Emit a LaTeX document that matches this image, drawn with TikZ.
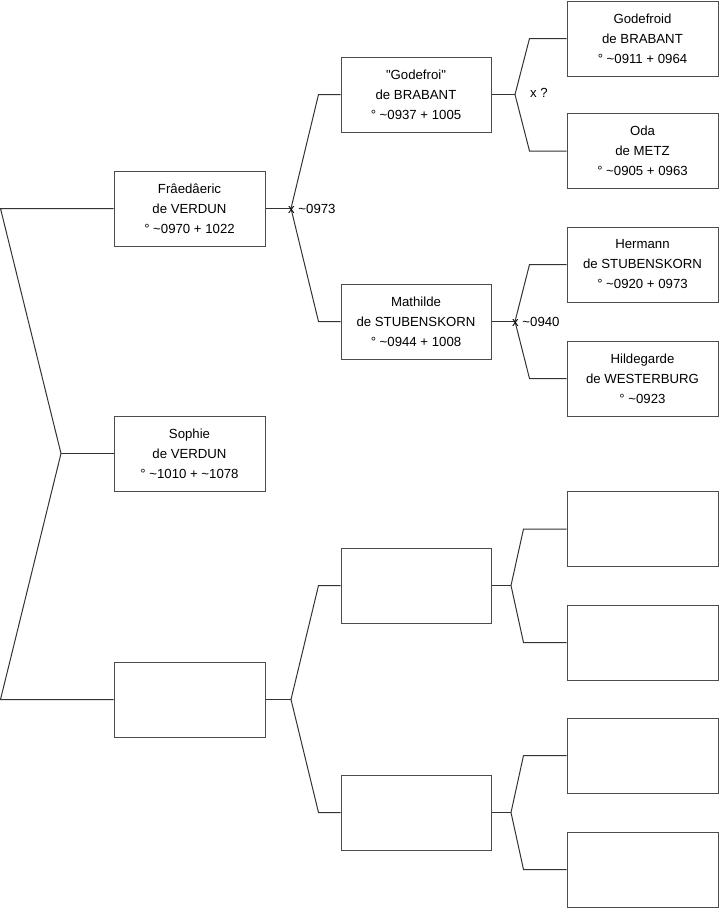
\documentclass[tikz,border=0pt]{standalone}
\usepackage{fontspec}
\setmainfont{Liberation Sans}
\usepackage{tikz}
\usetikzlibrary{positioning}

\begin{document}
\begin{tikzpicture}[
  x=1pt, y=-1pt,
  every node/.style={font=\fontsize{13.2}{20}\selectfont, align=center, inner sep=0pt},
  person/.style={draw=black!70, line width=1pt, minimum width=151pt, minimum height=75pt},
  link/.style={draw=black!80, line width=1pt},
  mark label/.style={anchor=west}
]
\useasboundingbox (0,0) rectangle (719,908);

% generation 1
\node[person] (Fr) at (189.5,208.5) {Frâedâeric\\de VERDUN\\° \textasciitilde0970 + 1022};
\node[person] (So) at (189.5,453.5) {Sophie\\de VERDUN\\° \textasciitilde1010 + \textasciitilde1078};
\node[person] (Pa) at (189.5,699.5) {};

% generation 2
\node[person, minimum width=150pt] (Go) at (416,94.5) {\textquotedbl Godefroi\textquotedbl\\de BRABANT\\° \textasciitilde0937 + 1005};
\node[person, minimum width=150pt] (Ma) at (416,321.5) {Mathilde\\de STUBENSKORN\\° \textasciitilde0944 + 1008};
\node[person, minimum width=150pt] (PaF) at (416,585.5) {};
\node[person, minimum width=150pt] (PaM) at (416,812.5) {};

% generation 3
\node[person] (GoF) at (642.5,38.5) {Godefroid\\de BRABANT\\° \textasciitilde0911 + 0964};
\node[person] (GoM) at (642.5,151) {Oda\\de METZ\\° \textasciitilde0905 + 0963};
\node[person] (MaF) at (642.5,264.5) {Hermann\\de STUBENSKORN\\° \textasciitilde0920 + 0973};
\node[person] (MaM) at (642.5,378.5) {Hildegarde\\de WESTERBURG\\° \textasciitilde0923};
\node[person] (PaFF) at (642.5,529) {};
\node[person] (PaFM) at (642.5,642.5) {};
\node[person] (PaMF) at (642.5,755.5) {};
\node[person] (PaMM) at (642.5,869.5) {};

% branch points
\coordinate (lt) at (0.5,208.5);
\coordinate (lm) at (61,453.5);
\coordinate (lb) at (0.5,699.5);
\coordinate (bFr) at (291,208.5);
\coordinate (bPa) at (291,699.5);
\coordinate (bGo) at (515,94.5);
\coordinate (bMa) at (515,321.5);
\coordinate (bPaF) at (511,585.5);
\coordinate (bPaM) at (511,812.5);

% connectors
\draw[link] (Fr.west) -- (lt) -- (lm) -- (lb) -- (Pa.west);
\draw[link] (lm) -- (So.west);

\draw[link] (Fr.east) -- (bFr);
\draw[link] (bFr) -- ([xshift=-22pt]Go.west) -- (Go.west);
\draw[link] (bFr) -- ([xshift=-22pt]Ma.west) -- (Ma.west);
\draw[link] (Pa.east) -- (bPa);
\draw[link] (bPa) -- ([xshift=-22pt]PaF.west) -- (PaF.west);
\draw[link] (bPa) -- ([xshift=-22pt]PaM.west) -- (PaM.west);

\draw[link] (Go.east) -- (bGo);
\draw[link] (bGo) -- ([xshift=-37pt]GoF.west) -- (GoF.west);
\draw[link] (bGo) -- ([xshift=-37pt]GoM.west) -- (GoM.west);
\draw[link] (Ma.east) -- (bMa);
\draw[link] (bMa) -- ([xshift=-37pt]MaF.west) -- (MaF.west);
\draw[link] (bMa) -- ([xshift=-37pt]MaM.west) -- (MaM.west);
\draw[link] (PaF.east) -- (bPaF);
\draw[link] (bPaF) -- ([xshift=-43pt]PaFF.west) -- (PaFF.west);
\draw[link] (bPaF) -- ([xshift=-43pt]PaFM.west) -- (PaFM.west);
\draw[link] (PaM.east) -- (bPaM);
\draw[link] (bPaM) -- ([xshift=-43pt]PaMF.west) -- (PaMF.west);
\draw[link] (bPaM) -- ([xshift=-43pt]PaMM.west) -- (PaMM.west);

% marriage labels
\node[mark label] (mFr) at ([xshift=-3pt]bFr) {x \textasciitilde0973};
\node[mark label] (mGo) at (530,93) {x ?};
\node[mark label] (mMa) at ([xshift=-3pt]bMa) {x \textasciitilde0940};
\end{tikzpicture}
\end{document}
